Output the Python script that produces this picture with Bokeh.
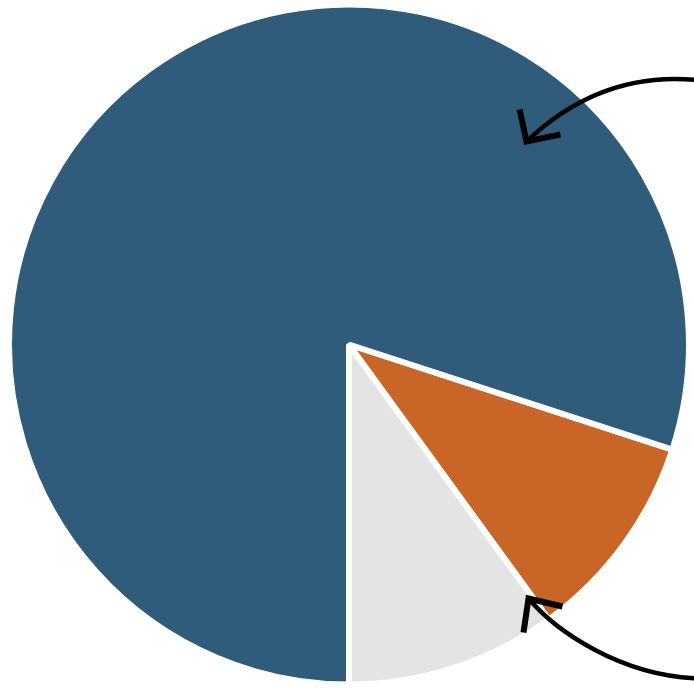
import math
from bokeh.plotting import figure
from bokeh.models import Range1d, ColumnDataSource
from bokeh.embed import file_html
from bokeh.resources import INLINE

# ---- data (slices listed anticlockwise, starting at 6 o'clock) ----
categories = ["Grey", "Orange", "Blue"]
shares = [10, 10, 80]
colors = ["#E4E4E4", "#C86527", "#2E5C7A"]

W, H = 694, 688
p = figure(width=W, height=H, output_backend="svg", toolbar_location=None,
           x_range=Range1d(0, W), y_range=Range1d(0, H),
           min_border=0, outline_line_color=None, background_fill_color="white")
p.axis.visible = False
p.grid.visible = False

total = sum(shares)
start = -math.pi / 2
starts, ends = [], []
for s in shares:
    ang = 2 * math.pi * s / total
    starts.append(start)
    ends.append(start + ang)
    start += ang

src = ColumnDataSource(dict(cat=categories, val=shares, color=colors,
                            start=starts, end=ends))
cx, cy, r = 348.5, H - 344, 340
p.wedge(x=cx, y=cy, radius=r, start_angle="start", end_angle="end",
        direction="anticlock", fill_color="color", line_color="white",
        line_width=6, source=src)

def sy(v):
    return H - v

# top arrow (curved, pointing into the blue slice)
p.bezier(x0=[700], y0=[sy(80)], x1=[526], y1=[sy(141)],
         cx0=[620], cy0=[sy(71)], cx1=[565], cy1=[sy(104)],
         line_color="black", line_width=4.5)
p.line(x=[519, 526, 560], y=[sy(109), sy(141), sy(134)],
       line_color="black", line_width=6, line_join="miter")

# bottom arrow (curved, pointing to grey/orange boundary)
p.bezier(x0=[700], y0=[sy(678)], x1=[528], y1=[sy(598)],
         cx0=[620], cy0=[sy(676)], cx1=[555], cy1=[sy(630)],
         line_color="black", line_width=4.5)
p.line(x=[523, 528, 562], y=[sy(632), sy(598), sy(606)],
       line_color="black", line_width=6, line_join="miter")

open("out.html", "w").write(file_html(p, INLINE))
